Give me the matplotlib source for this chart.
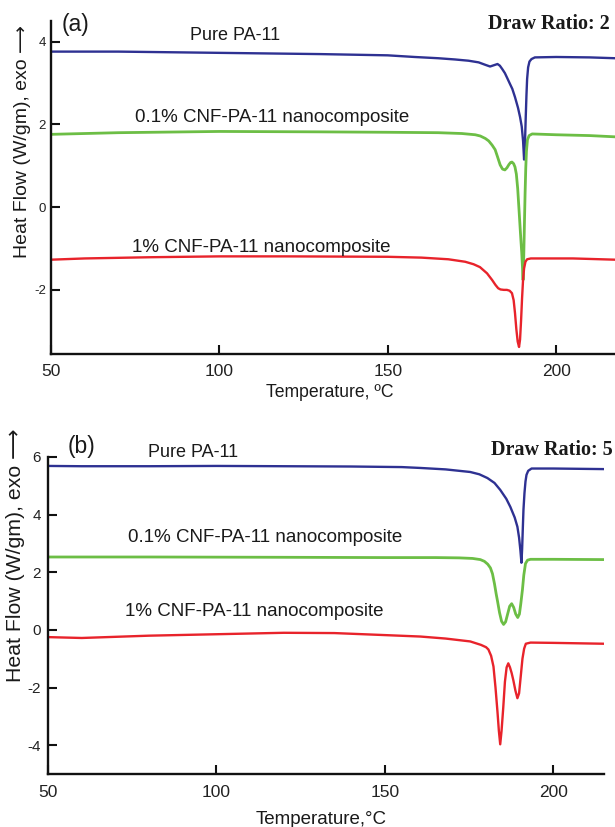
import matplotlib
matplotlib.use("Agg")
import matplotlib.pyplot as plt

plt.rcParams['font.family'] = ['Liberation Sans', 'DejaVu Sans']
plt.rcParams['axes.unicode_minus'] = False

# ---------------- data: panel (a), draw ratio 2 ----------------
a_blue_T = [50, 70, 100, 130, 150, 158, 165, 170, 174, 177, 179, 180.4, 181.5, 182.6, 183.3, 184, 184.8, 185.5,
            186.3, 187, 187.8, 188.7, 189.3, 189.8, 190.2, 190.4, 190.5, 190.65, 190.8, 191.0, 191.2, 191.4,
            191.7, 192.1, 192.7, 193.7, 200, 210, 217.5]
a_blue_v = [3.76, 3.76, 3.73, 3.70, 3.67, 3.63, 3.60, 3.57, 3.54, 3.50, 3.44, 3.40, 3.43, 3.46, 3.42, 3.34, 3.24, 3.12,
            2.98, 2.86, 2.66, 2.40, 2.18, 1.95, 1.60, 1.30, 1.15, 1.35, 1.65, 2.20, 2.70, 3.10,
            3.38, 3.52, 3.58, 3.62, 3.63, 3.62, 3.60]

a_green_T = [50, 70, 100, 130, 150, 165, 172, 176, 177.5, 179, 180, 181, 181.9, 182.6, 183.4, 184.1, 184.8, 185.4,
             186.0, 186.5, 186.9, 187.4, 187.8, 188.2, 188.6, 189.0, 189.4, 189.8, 190.05, 190.2, 190.4, 190.6,
             190.8, 191.0, 191.2, 191.5, 192.0, 192.9, 200, 210, 217.5]
a_green_v = [1.76, 1.80, 1.83, 1.82, 1.81, 1.80, 1.78, 1.75, 1.72, 1.66, 1.60, 1.50, 1.39, 1.22, 1.02, 0.92, 0.90, 0.95,
             1.03, 1.08, 1.09, 1.05, 0.97, 0.80, 0.45, -0.07, -0.60, -1.10, -1.50, -1.76, -1.20, -0.40,
             0.34, 0.95, 1.35, 1.63, 1.73, 1.77, 1.75, 1.73, 1.70]

a_red_T = [50, 60, 80, 100, 120, 150, 160, 168, 173, 175.5, 177.4, 179.5, 181, 182, 182.8, 183.5, 184.5, 185.4,
           186.2, 186.9, 187.4, 187.8, 188.2, 188.6, 189.0, 189.3, 189.6, 189.9, 190.2, 190.5, 190.9, 191.4,
           192.5, 205, 217.5]
a_red_v = [-1.27, -1.24, -1.21, -1.19, -1.19, -1.20, -1.22, -1.26, -1.32, -1.38, -1.45, -1.60, -1.76, -1.88, -1.96,
           -1.99, -2.00, -2.00, -2.02, -2.08, -2.25, -2.56, -2.95, -3.25, -3.38, -3.20, -2.75, -2.20, -1.75,
           -1.48, -1.32, -1.26, -1.24, -1.24, -1.27]

# ---------------- data: panel (b), draw ratio 5 ----------------
b_blue_T = [50, 60, 80, 100, 120, 140, 155, 160.5, 168, 175.3, 178, 180.4, 182.5, 184.2, 186, 187.2, 188.5,
            189.3, 189.8, 190.2, 190.5, 190.7, 190.9, 191.1, 191.4, 191.7, 192.0, 192.5, 193.5, 200, 215]
b_blue_v = [5.69, 5.68, 5.68, 5.69, 5.68, 5.67, 5.65, 5.62, 5.57, 5.48, 5.40, 5.27, 5.10, 4.86, 4.55, 4.27, 3.90,
            3.58, 3.20, 2.75, 2.33, 2.80, 3.50, 4.17, 4.75, 5.15, 5.38, 5.52, 5.60, 5.60, 5.58]

b_green_T = [50, 80, 120, 150, 165, 172, 176, 178.3, 179.5, 180.5, 181.3, 181.9, 182.5, 183.0, 183.4, 184.0,
             184.6, 185.2, 185.8, 186.4, 187.0, 187.6, 188.2, 188.8, 189.4, 189.9, 190.3, 190.8, 191.2,
             191.7, 192.3, 193.2, 200, 215]
b_green_v = [2.53, 2.53, 2.52, 2.51, 2.51, 2.50, 2.48, 2.44, 2.38, 2.28, 2.15, 1.95, 1.60, 1.25, 1.00, 0.60,
             0.30, 0.19, 0.28, 0.55, 0.82, 0.91, 0.78, 0.55, 0.43, 0.55, 0.90, 1.40, 1.90,
             2.30, 2.42, 2.45, 2.45, 2.44]

b_red_T = [50, 60, 80, 100, 120, 135, 150, 160.5, 168, 175.3, 178.5, 180, 180.7, 181.5, 182.2, 182.8, 183.4,
           183.8, 184.2, 184.6, 185.1, 185.6, 186.1, 186.6, 187.1, 187.6, 188.1, 188.7, 189.3, 189.8, 190.3,
           190.8, 191.3, 191.8, 193.2, 200, 215]
b_red_v = [-0.25, -0.28, -0.20, -0.15, -0.10, -0.11, -0.18, -0.23, -0.30, -0.40, -0.52, -0.60, -0.68, -0.90,
           -1.27, -2.00, -2.86, -3.50, -3.97, -3.50, -2.70, -1.80, -1.30, -1.16, -1.30, -1.50, -1.75, -2.10,
           -2.37, -2.20, -1.60, -1.00, -0.65, -0.48, -0.44, -0.45, -0.48]

x_ticks = [50, 100, 150, 200]
a_y_ticks = [-2, 0, 2, 4]
b_y_ticks = [-4, -2, 0, 2, 4, 6]

series_labels = ["Pure PA-11", "0.1% CNF-PA-11 nanocomposite", "1% CNF-PA-11 nanocomposite"]
panel_tags = ["(a)", "(b)"]
ratio_labels = ["Draw Ratio: 2", "Draw Ratio: 5"]
xlabels = ["Temperature, ºC", "Temperature,°C"]
ylabel = "Heat Flow (W/gm), exo \u27F6"

BLUE = "#2E3192"
GREEN = "#6CBE45"
RED = "#E8232B"

W, H = 615, 827
fig = plt.figure(figsize=(W / 100, H / 100), dpi=100)

def fx(px):
    return px / W

def fy(py):
    return 1 - py / H

ax_a = fig.add_axes([fx(51), fy(354), fx(615 - 51), (354 - 21) / H])
ax_b = fig.add_axes([fx(48), fy(774), fx(604 - 48), (774 - 457) / H])

def style(ax, yticks, ytick_size, ypad, xpad):
    for s in ["top", "right"]:
        ax.spines[s].set_visible(False)
    for s in ["left", "bottom"]:
        ax.spines[s].set_linewidth(1.7)
        ax.spines[s].set_color("#111111")
    ax.set_xticks(x_ticks)
    ax.set_yticks(yticks)
    ax.tick_params(axis="both", direction="in", length=6.5, width=1.5, color="#111111")
    ax.tick_params(axis="x", labelsize=12.5, pad=xpad, labelcolor="#222222")
    ax.tick_params(axis="y", labelsize=ytick_size, pad=ypad, labelcolor="#222222")

lw = 1.7
ax_a.plot(a_blue_T, a_blue_v, color=BLUE, lw=lw)
ax_a.plot(a_green_T, a_green_v, color=GREEN, lw=lw + 0.3)
ax_a.plot(a_red_T, a_red_v, color=RED, lw=lw)
ax_a.set_xlim(50, 217.5)
ax_a.set_ylim(-3.55, 4.5)
style(ax_a, a_y_ticks, 9.5, 3.5, 7)

ax_b.plot(b_blue_T, b_blue_v, color=BLUE, lw=lw)
ax_b.plot(b_green_T, b_green_v, color=GREEN, lw=lw + 0.3)
ax_b.plot(b_red_T, b_red_v, color=RED, lw=lw)
ax_b.set_xlim(50, 215)
ax_b.set_ylim(-5, 6)
style(ax_b, b_y_ticks, 11, 5, 8)

tc = "#1a1a1a"
# panel (a) texts
ax_a.text(53.3, 4.41, panel_tags[0], fontsize=16.5, va="center", ha="left", color=tc, clip_on=False)
ax_a.text(91.3, 4.16, series_labels[0], fontsize=13, va="center", ha="left", color=tc)
ax_a.text(74.9, 2.16, series_labels[1], fontsize=13.5, va="center", ha="left", color=tc)
ax_a.text(74.1, -0.98, series_labels[2], fontsize=13.5, va="center", ha="left", color=tc)
ax_a.text(216, 4.42, ratio_labels[0], fontsize=14.5, va="center", ha="right", color=tc,
          family="Liberation Serif", weight="bold", clip_on=False)

# panel (b) texts
ax_b.text(55.9, 6.35, panel_tags[1], fontsize=16.5, va="center", ha="left", color=tc, clip_on=False)
ax_b.text(79.7, 6.14, series_labels[0], fontsize=13, va="center", ha="left", color=tc, clip_on=False)
ax_b.text(73.8, 3.21, series_labels[1], fontsize=13.5, va="center", ha="left", color=tc)
ax_b.text(72.9, 0.65, series_labels[2], fontsize=13.5, va="center", ha="left", color=tc)
ax_b.text(217.5, 6.24, ratio_labels[1], fontsize=14.5, va="center", ha="right", color=tc,
          family="Liberation Serif", weight="bold", clip_on=False)

# axis labels
fig.text(fx(330), fy(393), xlabels[0], fontsize=12.7, ha="center", va="center", color=tc)
fig.text(fx(321), fy(820), xlabels[1], fontsize=13.5, ha="center", va="center", color=tc)
fig.text(fx(23), fy(25), ylabel, fontsize=14, rotation=90, ha="center", va="top", color=tc)
fig.text(fx(16), fy(428), ylabel, fontsize=15.3, rotation=90, ha="center", va="top", color=tc)

fig.savefig("out.png", dpi=100)
